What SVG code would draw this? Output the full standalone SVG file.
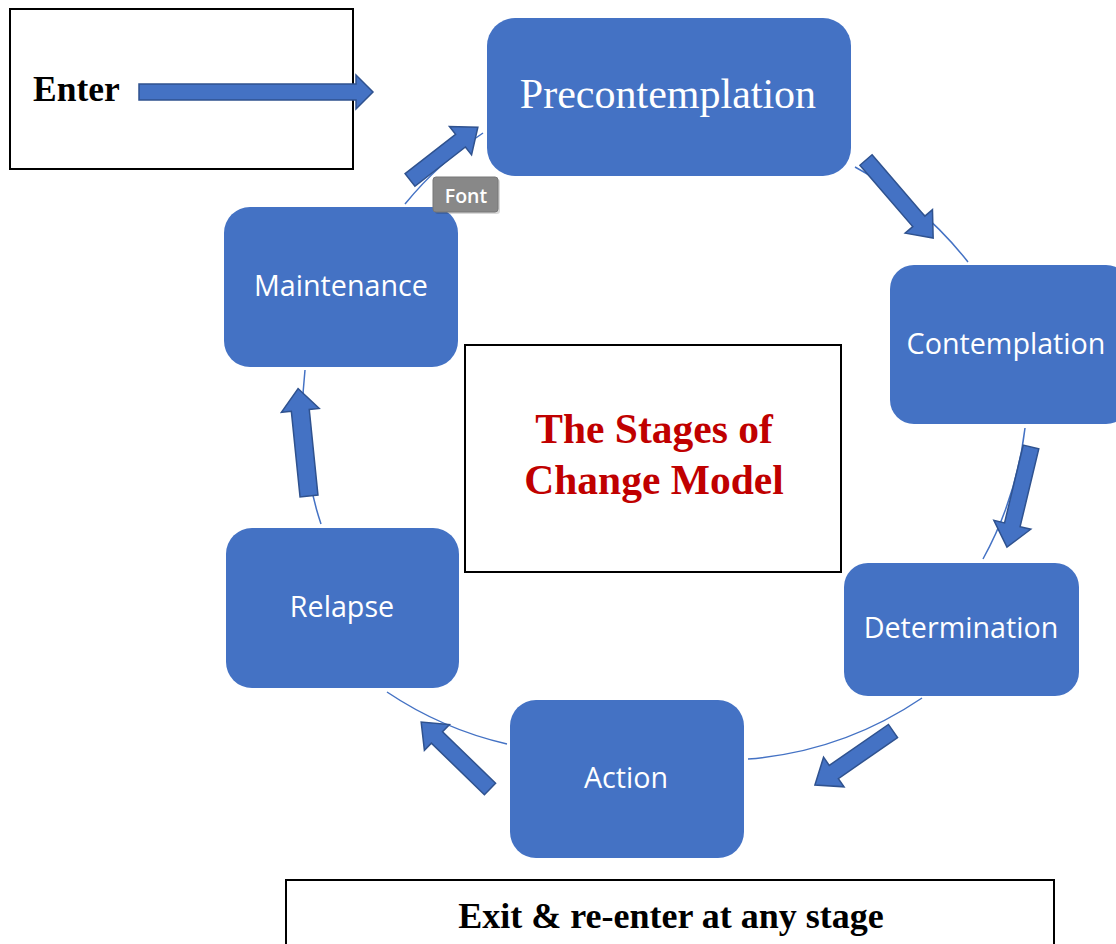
<svg xmlns="http://www.w3.org/2000/svg" width="1116" height="944" viewBox="0 0 1116 944">
<style>
.node{fill:#4472C4;}
.lbl{fill:#fff;font-family:"Open Sans","Liberation Sans",sans-serif;font-size:28.7px;text-anchor:middle;}
.arc{fill:none;stroke:#4472C4;stroke-width:1.5;}
.arw{fill:#4472C4;stroke:#2F528F;stroke-width:1.5;stroke-linejoin:miter;}
.box{fill:#fff;stroke:#000;stroke-width:2;}
.serif{font-family:"Liberation Serif","Times New Roman",serif;font-weight:bold;}
</style>
<rect width="1116" height="944" fill="#fff"/>
<g id="connectors">
  <path class="arc" d="M405,204 A360,360 0 0 1 483,133"/>
  <path class="arc" d="M855,167 A360,360 0 0 1 968,262"/>
  <path class="arc" d="M1025,428 A360,360 0 0 1 983,559"/>
  <path class="arc" d="M922,698 A360,360 0 0 1 748,759"/>
  <path class="arc" d="M507,744 A360,360 0 0 1 387,692"/>
  <path class="arc" d="M321,524 A360,360 0 0 1 305,370"/>
  <polygon class="arw" transform="translate(866,160) rotate(49.3)" points="0,-8 81,-8 81,-18 103,0 81,18 81,8 0,8"/>
  <polygon class="arw" transform="translate(1031,447) rotate(103.5)" points="0,-8 80,-8 80,-19 103,0 80,19 80,8 0,8"/>
  <polygon class="arw" transform="translate(893,731) rotate(145.3)" points="0,-8 72,-8 72,-18 95,0 72,18 72,8 0,8"/>
  <polygon class="arw" transform="translate(490,789) rotate(224.2)" points="0,-8 74,-8 74,-18 96,0 74,18 74,8 0,8"/>
  <polygon class="arw" transform="translate(309,496) rotate(-95.8)" points="0,-9 86,-9 86,-19 108,0 86,19 86,9 0,9"/>
  <polygon class="arw" transform="translate(410,180) rotate(-37.9)" points="0,-8 64,-8 64,-18 86,0 64,18 64,8 0,8"/>
</g>
<g id="enter">
  <rect class="box" x="10" y="9" width="343" height="160"/>
  <text class="serif" x="33" y="101" font-size="35.5" fill="#000">Enter</text>
  <polygon class="arw" points="139,84 356,84 356,75 373,92 356,109 356,100 139,100"/>
</g>
<g id="precontemplation">
  <rect class="node" x="487" y="18" width="364" height="158" rx="28"/>
  <text x="668" y="108" font-family="Liberation Serif,'Times New Roman',serif" font-size="42" fill="#fff" text-anchor="middle">Precontemplation</text>
</g>
<g id="contemplation">
  <rect class="node" x="890" y="265" width="240" height="159" rx="24"/>
  <text class="lbl" x="1006" y="354">Contemplation</text>
</g>
<g id="determination">
  <rect class="node" x="844" y="563" width="235" height="133" rx="24"/>
  <text class="lbl" x="961" y="638">Determination</text>
</g>
<g id="action">
  <rect class="node" x="510" y="700" width="234" height="158" rx="26"/>
  <text class="lbl" x="626" y="788">Action</text>
</g>
<g id="relapse">
  <rect class="node" x="226" y="528" width="233" height="160" rx="26"/>
  <text class="lbl" x="342" y="617">Relapse</text>
</g>
<g id="maintenance">
  <rect class="node" x="224" y="207" width="234" height="160" rx="26"/>
  <text class="lbl" x="341" y="296">Maintenance</text>
</g>
<g id="title">
  <rect class="box" x="465" y="345" width="376" height="227"/>
  <text class="serif" x="654" y="443" font-size="41.5" fill="#C00000" text-anchor="middle">The Stages of</text>
  <text class="serif" x="654" y="494" font-size="41.5" fill="#C00000" text-anchor="middle">Change Model</text>
</g>
<g id="exit">
  <rect class="box" x="286" y="880" width="768" height="70"/>
  <text class="serif" x="671" y="928" font-size="36" fill="#000" text-anchor="middle">Exit &amp; re-enter at any stage</text>
</g>
<g id="tooltip">
  <rect x="435" y="179" width="65" height="35" rx="3" fill="#000" opacity="0.15"/>
  <rect x="433" y="177" width="65" height="35" rx="3" fill="#888888" stroke="#777" stroke-width="1"/>
  <text x="466" y="203" font-family="'Open Sans','Liberation Sans',sans-serif" font-size="19.5" font-weight="600" fill="#fff" text-anchor="middle">Font</text>
</g>
</svg>
